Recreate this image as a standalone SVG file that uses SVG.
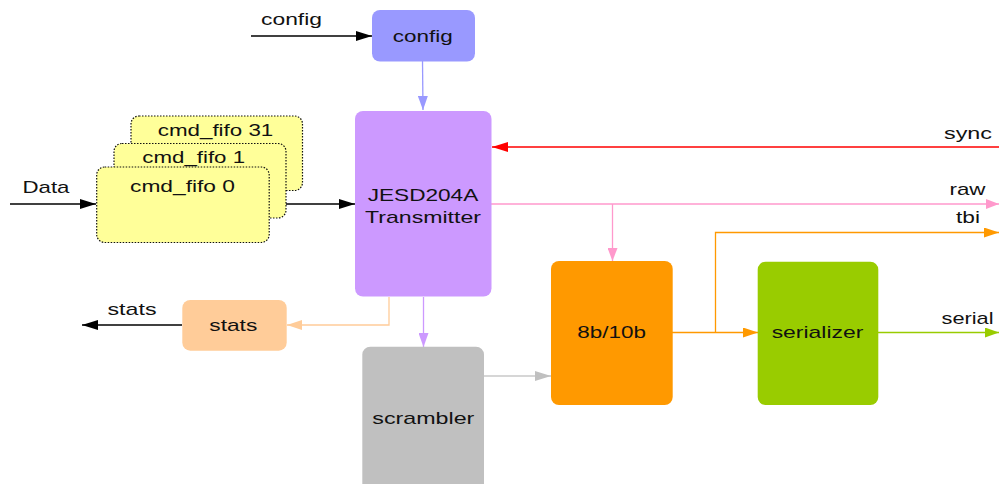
<svg xmlns="http://www.w3.org/2000/svg" width="999" height="484" viewBox="0 0 999 484">
<style>
text{font-family:"Liberation Sans",Arial,sans-serif;font-size:17px;fill:#111}
.c{text-anchor:middle}
.r{text-anchor:end}
.fifo{fill:#ffff99;stroke:#111;stroke-width:1.2;stroke-dasharray:1.5 1.5}
.ln{fill:none;stroke-width:1.3}
</style>
<defs>
<marker id="a-k" viewBox="0 0 16 10" refX="16" refY="5" markerWidth="16" markerHeight="10" markerUnits="userSpaceOnUse" orient="auto"><path d="M0,0L16,5L0,10z" fill="#000"/></marker>
<marker id="a-b" viewBox="0 0 14 10" refX="14" refY="5" markerWidth="14" markerHeight="10" markerUnits="userSpaceOnUse" orient="auto"><path d="M0,0L14,5L0,10z" fill="#9999ff"/></marker>
<marker id="a-r" viewBox="0 0 16 10" refX="16" refY="5" markerWidth="16" markerHeight="10" markerUnits="userSpaceOnUse" orient="auto"><path d="M0,0L16,5L0,10z" fill="#ff0000"/></marker>
<marker id="a-p" viewBox="0 0 13 10" refX="13" refY="5" markerWidth="13" markerHeight="10" markerUnits="userSpaceOnUse" orient="auto"><path d="M0,0L13,5L0,10z" fill="#ff99cc"/></marker>
<marker id="a-o" viewBox="0 0 15 10" refX="15" refY="5" markerWidth="15" markerHeight="10" markerUnits="userSpaceOnUse" orient="auto"><path d="M0,0L15,5L0,10z" fill="#ff9900"/></marker>
<marker id="a-lo" viewBox="0 0 15 10" refX="15" refY="5" markerWidth="15" markerHeight="10" markerUnits="userSpaceOnUse" orient="auto"><path d="M0,0L15,5L0,10z" fill="#ffcc99"/></marker>
<marker id="a-v" viewBox="0 0 14 10" refX="14" refY="5" markerWidth="14" markerHeight="10" markerUnits="userSpaceOnUse" orient="auto"><path d="M0,0L14,5L0,10z" fill="#cc99ff"/></marker>
<marker id="a-g" viewBox="0 0 16 10" refX="16" refY="5" markerWidth="16" markerHeight="10" markerUnits="userSpaceOnUse" orient="auto"><path d="M0,0L16,5L0,10z" fill="#c0c0c0"/></marker>
<marker id="a-gr" viewBox="0 0 14 10" refX="14" refY="5" markerWidth="14" markerHeight="10" markerUnits="userSpaceOnUse" orient="auto"><path d="M0,0L14,5L0,10z" fill="#99cc00"/></marker>
</defs>
<rect width="999" height="484" fill="#fff"/>

<g id="connectors">
<line class="ln" x1="251" y1="36" x2="372" y2="36" stroke="#000" marker-end="url(#a-k)"/>
<line class="ln" x1="422.5" y1="61" x2="423" y2="110" stroke="#9999ff" marker-end="url(#a-b)"/>
<line class="ln" x1="10" y1="204" x2="96" y2="204" stroke="#000" marker-end="url(#a-k)"/>
<line class="ln" x1="269" y1="204" x2="355" y2="204" stroke="#000" marker-end="url(#a-k)"/>
<line class="ln" x1="999" y1="147" x2="492" y2="147" stroke="#ff0000" marker-end="url(#a-r)"/>
<line class="ln" x1="491" y1="204" x2="999" y2="204" stroke="#ff99cc" marker-end="url(#a-p)"/>
<line class="ln" x1="612.5" y1="204" x2="612.5" y2="261" stroke="#ff99cc" marker-end="url(#a-p)"/>
<line class="ln" x1="672" y1="332.5" x2="758" y2="332.5" stroke="#ff9900" marker-end="url(#a-o)"/>
<polyline class="ln" points="715.5,332.5 715.5,232.5 999,232.5" stroke="#ff9900" marker-end="url(#a-o)"/>
<line class="ln" x1="878" y1="332.5" x2="999" y2="332.5" stroke="#99cc00" marker-end="url(#a-gr)"/>
<polyline class="ln" points="389,297 389,325 287,325" stroke="#ffcc99" marker-end="url(#a-lo)"/>
<line class="ln" x1="182" y1="325" x2="82" y2="325" stroke="#000" marker-end="url(#a-k)"/>
<line class="ln" x1="423.5" y1="297" x2="423.5" y2="347" stroke="#cc99ff" marker-end="url(#a-v)"/>
<line class="ln" x1="484" y1="376" x2="551" y2="376" stroke="#c8c8c8" marker-end="url(#a-g)"/>
</g>

<g id="labels">
<text x="291.5" y="25" class="c" textLength="61" lengthAdjust="spacingAndGlyphs">config</text>
<text x="46" y="192.5" class="c" textLength="47" lengthAdjust="spacingAndGlyphs">Data</text>
<text x="992" y="138.5" class="r" textLength="48" lengthAdjust="spacingAndGlyphs">sync</text>
<text x="985.5" y="195" class="r" textLength="36" lengthAdjust="spacingAndGlyphs">raw</text>
<text x="980" y="223" class="r" textLength="24" lengthAdjust="spacingAndGlyphs">tbi</text>
<text x="993.5" y="323.5" class="r" textLength="52" lengthAdjust="spacingAndGlyphs">serial</text>
<text x="132" y="314.5" class="c" textLength="49" lengthAdjust="spacingAndGlyphs">stats</text>
</g>

<g id="config">
<rect x="372" y="10" width="103" height="51.5" rx="8" fill="#9999ff"/>
<text x="422.7" y="41.7" class="c" textLength="60" lengthAdjust="spacingAndGlyphs">config</text>
</g>

<g id="cmd_fifo_31">
<rect class="fifo" x="131" y="116" width="171.5" height="74.5" rx="8"/>
<text x="215.5" y="136" class="c" textLength="115.5" lengthAdjust="spacingAndGlyphs">cmd_fifo 31</text>
</g>
<g id="cmd_fifo_1">
<rect class="fifo" x="114" y="143.5" width="172" height="74.5" rx="8"/>
<text x="193.7" y="162.7" class="c" textLength="102.7" lengthAdjust="spacingAndGlyphs">cmd_fifo 1</text>
</g>
<g id="cmd_fifo_0">
<rect class="fifo" x="96.7" y="167" width="172.5" height="75.5" rx="8"/>
<text x="182.5" y="192.3" class="c" textLength="105" lengthAdjust="spacingAndGlyphs">cmd_fifo 0</text>
</g>

<g id="jesd">
<rect x="355" y="111" width="136.5" height="185.5" rx="8" fill="#cc99ff"/>
<text x="423" y="201" class="c" textLength="110.6" lengthAdjust="spacingAndGlyphs">JESD204A</text>
<text x="423" y="223.3" class="c" textLength="116" lengthAdjust="spacingAndGlyphs">Transmitter</text>
</g>

<g id="stats">
<rect x="182.3" y="300" width="104.4" height="50.7" rx="8" fill="#ffcc99"/>
<text x="233.3" y="330.7" class="c" textLength="48" lengthAdjust="spacingAndGlyphs">stats</text>
</g>

<g id="scrambler">
<rect x="362.3" y="346.7" width="121.7" height="150" rx="8" fill="#c0c0c0"/>
<text x="423.3" y="424" class="c" textLength="102" lengthAdjust="spacingAndGlyphs">scrambler</text>
</g>

<g id="enc8b10b">
<rect x="551" y="261" width="121.7" height="144" rx="8" fill="#ff9900"/>
<text x="611.7" y="338.3" class="c" textLength="68.7" lengthAdjust="spacingAndGlyphs">8b/10b</text>
</g>

<g id="serializer">
<rect x="757.7" y="261.7" width="120.6" height="143.3" rx="8" fill="#99cc00"/>
<text x="817.5" y="338.3" class="c" textLength="91.7" lengthAdjust="spacingAndGlyphs">serializer</text>
</g>
</svg>
